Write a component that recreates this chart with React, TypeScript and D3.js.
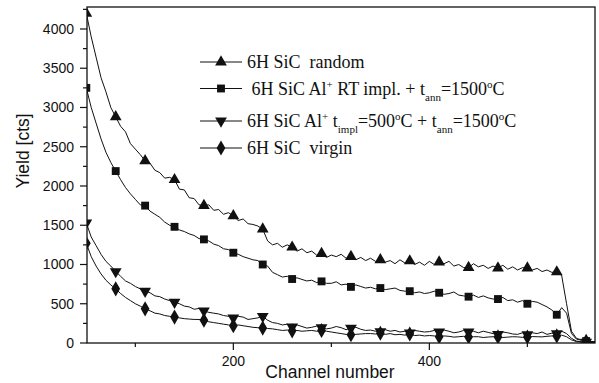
import React, { useRef, useEffect } from "react";
import * as d3 from "d3";

// channel numbers (shared by all four spectra)
const channels = [
  50, 55, 60, 65, 70, 75, 80, 85, 90, 95,
  100, 105, 110, 115, 120, 125, 130, 135, 140, 145,
  150, 155, 160, 165, 170, 175, 180, 185, 190, 195,
  200, 205, 210, 215, 220, 225, 230, 235, 240, 245,
  250, 255, 260, 265, 270, 275, 280, 285, 290, 295,
  300, 305, 310, 315, 320, 325, 330, 335, 340, 345,
  350, 355, 360, 365, 370, 375, 380, 385, 390, 395,
  400, 405, 410, 415, 420, 425, 430, 435, 440, 445,
  450, 455, 460, 465, 470, 475, 480, 485, 490, 495,
  500, 505, 510, 515, 520, 525, 530, 535, 540, 545,
  550, 555, 560, 565, 570,
];

const randomYield = [
  4200, 3900, 3640, 3380, 3200, 3000, 2880, 2760, 2690, 2540,
  2470, 2400, 2320, 2290, 2200, 2170, 2100, 2110, 2080, 1960,
  1950, 1850, 1840, 1760, 1750, 1760, 1690, 1700, 1640, 1660,
  1620, 1560, 1580, 1520, 1510, 1490, 1450, 1300, 1250, 1270,
  1220, 1250, 1220, 1170, 1200, 1150, 1170, 1120, 1140, 1090,
  1120, 1100, 1130, 1080, 1100, 1060, 1090, 1050, 1080, 1040,
  1060, 1030, 1050, 1010, 1060, 1020, 1045, 1000, 1030, 990,
  1040, 1000, 1030, 1010, 1040, 980, 1000, 960, 960, 1010,
  970, 990, 950, 980, 955, 990, 940, 970, 930, 960,
  955, 930, 950, 910, 930, 900, 905, 860, 500, 150,
  60, 40, 30, 20, 15,
];

const rtImplYield = [
  3250, 3000, 2800, 2600, 2430, 2300, 2190, 2080, 1980, 1900,
  1830, 1760, 1750, 1680, 1640, 1600, 1540, 1500, 1480, 1440,
  1420, 1390, 1370, 1330, 1320, 1300, 1260, 1240, 1200, 1190,
  1150, 1130, 1100, 1080, 1060, 1050, 1000, 980, 900, 870,
  840, 850, 815, 830, 810, 790, 800, 770, 785, 760,
  760, 780, 740, 750, 715, 740, 720, 700, 710, 690,
  700, 680, 690, 700, 670, 660, 660, 640, 650, 630,
  640, 660, 640, 620, 630, 650, 610, 600, 590, 610,
  580, 600, 575, 560, 560, 580, 540, 550, 520, 540,
  500, 530, 520, 490, 460, 420, 360, 450, 380, 120,
  50, 35, 25, 18, 12,
];

const hotImplYield = [
  1530, 1350, 1240, 1130, 1040, 980, 910, 850, 790, 760,
  720, 690, 660, 640, 600, 590, 560, 540, 520, 500,
  470, 460, 430, 440, 410, 390, 380, 370, 350, 340,
  320, 340, 330, 300, 310, 320, 340, 290, 260, 250,
  230, 240, 205, 230, 210, 190, 200, 215, 195, 180,
  190, 210, 195, 170, 190, 200, 175, 160, 165, 150,
  145, 170, 150, 160, 140, 150, 130, 160, 150, 140,
  145, 160, 140, 165, 150, 130, 140, 160, 140, 150,
  130, 150, 135, 120, 110, 140, 130, 115, 110, 130,
  105, 130, 120, 140, 110, 125, 120, 150, 120, 60,
  25, 15, 12, 10, 8,
];

const virginYield = [
  1270, 1100, 980, 880, 800, 740, 690, 630, 580, 540,
  500, 470, 435, 410, 380, 370, 350, 340, 330, 320,
  310, 305, 300, 300, 290, 270, 260, 250, 240, 230,
  220, 230, 220, 210, 200, 195, 190, 185, 180, 170,
  160, 165, 155, 160, 150, 155, 160, 150, 160, 150,
  140, 130, 120, 110, 105, 110, 115, 120, 120, 115,
  125, 110, 120, 105, 110, 100, 115, 95, 100, 90,
  95, 90, 80, 90, 85, 75, 80, 85, 78, 80,
  80, 70, 76, 80, 78, 70, 75, 80, 78, 72,
  76, 82, 80, 78, 85, 90, 90, 100, 80, 40,
  18, 12, 10, 8, 6,
];

const yMajorTicks = [0, 500, 1000, 1500, 2000, 2500, 3000, 3500, 4000];
const yMinorTicks = [250, 750, 1250, 1750, 2250, 2750, 3250, 3750, 4250];
const xMajorTicks = [200, 400];
const xMinorTicks = [100, 300, 500];

type Seg = { t: string; k?: "sup" | "sub" };

const series: { name: string; symbol: d3.SymbolType; flip?: boolean; values: number[]; label: Seg[] }[] = [
  { name: "random", symbol: d3.symbolTriangle, values: randomYield, label: [{ t: "6H SiC  random" }] },
  {
    name: "rt",
    symbol: d3.symbolSquare,
    values: rtImplYield,
    label: [
      { t: " 6H SiC Al" }, { t: "+", k: "sup" }, { t: " RT impl. + t" }, { t: "ann", k: "sub" },
      { t: "=1500" }, { t: "o", k: "sup" }, { t: "C" },
    ],
  },
  {
    name: "hot",
    symbol: d3.symbolTriangle,
    flip: true,
    values: hotImplYield,
    label: [
      { t: "6H SiC Al" }, { t: "+", k: "sup" }, { t: " t" }, { t: "impl", k: "sub" }, { t: "=500" },
      { t: "o", k: "sup" }, { t: "C + t" }, { t: "ann", k: "sub" }, { t: "=1500" }, { t: "o", k: "sup" },
      { t: "C" },
    ],
  },
  { name: "virgin", symbol: d3.symbolDiamond, values: virginYield, label: [{ t: "6H SiC  virgin" }] },
];

export default function App() {
  const svgRef = useRef<SVGSVGElement>(null);

  useEffect(() => {
    if (!svgRef.current) return;
    const svg = d3.select(svgRef.current);
    svg.selectAll("*").remove();

    const left = 87, right = 595, top = 7, bottom = 343;
    const x = d3.scaleLinear().domain([50.7, 569]).range([left, right]);
    const y = d3.scaleLinear().domain([0, 4280]).range([bottom, top]);
    const ink = "#111";
    const axisFont = "'Liberation Sans', Arial, sans-serif";
    const legendFont = "'Liberation Serif', 'Times New Roman', serif";

    svg.append("rect").attr("width", 599).attr("height", 383).attr("fill", "#fff");

    svg.append("clipPath").attr("id", "plot-clip")
      .append("rect").attr("x", left).attr("y", top)
      .attr("width", right - left).attr("height", bottom - top);

    const symbolSize = (name: string) => (name === "rt" ? 62 : name === "virgin" ? 66 : 60);
    const marker = (s: typeof series[number]) => d3.symbol(s.symbol, symbolSize(s.name))();

    const plot = svg.append("g").attr("clip-path", "url(#plot-clip)");
    const line = d3.line<number>()
      .x((_, i) => x(channels[i]))
      .y(d => y(d));

    series.forEach(s => {
      plot.append("path")
        .datum(s.values)
        .attr("fill", "none")
        .attr("stroke", ink)
        .attr("stroke-width", 1)
        .attr("stroke-linejoin", "round")
        .attr("d", line);

      // Origin-style symbols every 30 channels
      const marks = s.values
        .map((v, i) => ({ c: channels[i], v }))
        .filter(d => d.c % 30 === 20);
      plot.selectAll(null)
        .data(marks)
        .enter()
        .append("path")
        .attr("d", marker(s))
        .attr("transform", d => `translate(${x(d.c)},${y(d.v)})${s.flip ? " rotate(180)" : ""}`)
        .attr("fill", ink);
    });

    // frame
    svg.append("rect")
      .attr("x", left).attr("y", top)
      .attr("width", right - left).attr("height", bottom - top)
      .attr("fill", "none").attr("stroke", ink).attr("stroke-width", 1.3);

    // y ticks
    svg.selectAll(".ymaj").data(yMajorTicks).enter().append("line")
      .attr("x1", left - 7).attr("x2", left)
      .attr("y1", d => y(d)).attr("y2", d => y(d))
      .attr("stroke", ink).attr("stroke-width", 1.2);
    svg.selectAll(".ymin").data(yMinorTicks).enter().append("line")
      .attr("x1", left - 4).attr("x2", left)
      .attr("y1", d => y(d)).attr("y2", d => y(d))
      .attr("stroke", ink).attr("stroke-width", 1.2);
    svg.selectAll(".ylab").data(yMajorTicks).enter().append("text")
      .attr("x", left - 13).attr("y", d => y(d) + 5)
      .attr("text-anchor", "end")
      .style("font-family", axisFont).style("font-size", "14px").style("fill", ink)
      .text(d => d);

    // x ticks
    svg.selectAll(".xmaj").data(xMajorTicks).enter().append("line")
      .attr("x1", d => x(d)).attr("x2", d => x(d))
      .attr("y1", bottom).attr("y2", bottom + 7)
      .attr("stroke", ink).attr("stroke-width", 1.2);
    svg.selectAll(".xmin").data(xMinorTicks).enter().append("line")
      .attr("x1", d => x(d)).attr("x2", d => x(d))
      .attr("y1", bottom).attr("y2", bottom + 4)
      .attr("stroke", ink).attr("stroke-width", 1.2);
    svg.selectAll(".xlab").data(xMajorTicks).enter().append("text")
      .attr("x", d => x(d)).attr("y", bottom + 23)
      .attr("text-anchor", "middle")
      .style("font-family", axisFont).style("font-size", "14px").style("fill", ink)
      .text(d => d);

    // axis titles
    svg.append("text")
      .attr("x", 330).attr("y", 378)
      .attr("text-anchor", "middle")
      .style("font-family", axisFont).style("font-size", "17.5px").style("fill", ink)
      .text("Channel number");
    svg.append("text")
      .attr("transform", "translate(29,151) rotate(-90)")
      .attr("text-anchor", "middle")
      .style("font-family", axisFont).style("font-size", "17.5px").style("fill", ink)
      .text("Yield [cts]");

    // legend
    const rowY = [62, 88.5, 121, 148];
    const legend = svg.append("g");
    series.forEach((s, i) => {
      const cy = rowY[i];
      legend.append("line")
        .attr("x1", 200).attr("x2", 242).attr("y1", cy).attr("y2", cy)
        .attr("stroke", ink).attr("stroke-width", 1);
      legend.append("path")
        .attr("d", marker(s))
        .attr("transform", `translate(221,${cy})${s.flip ? " rotate(180)" : ""}`)
        .attr("fill", ink);
      const txt = legend.append("text")
        .attr("x", 247).attr("y", cy + 6)
        .style("font-family", legendFont).style("font-size", "18px")
        .style("white-space", "pre").style("fill", ink);
      let shift = 0;
      s.label.forEach(seg => {
        const target = seg.k === "sup" ? -7 : seg.k === "sub" ? 6 : 0;
        txt.append("tspan")
          .attr("dy", target - shift)
          .style("font-size", seg.k ? "11px" : "18px")
          .text(seg.t);
        shift = target;
      });
    });
  }, []);

  return (
    <div style={{ position: "absolute", left: 0, top: 0 }}>
      <svg ref={svgRef} width={599} height={383} style={{ display: "block" }} />
    </div>
  );
}
